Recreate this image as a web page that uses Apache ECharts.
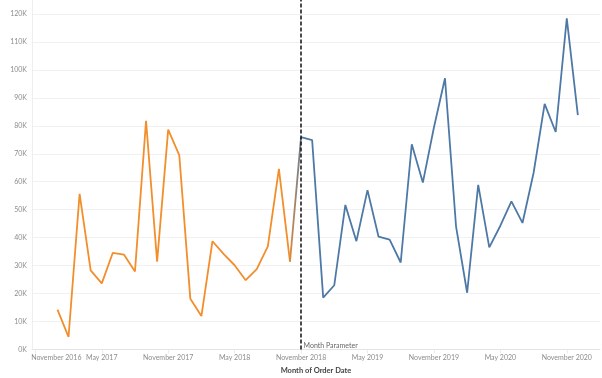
<!DOCTYPE html>
<html>
<head>
<meta charset="utf-8">
<script src="https://cdn.jsdelivr.net/npm/echarts@6/dist/echarts.min.js"></script>
<style>
  html, body { margin: 0; padding: 0; background: #fff; }
  #chart { width: 602px; height: 378px; }
</style>
</head>
<body>
<div id="chart"></div>
<script>
// monthly sales, Jan 2017 .. Dec 2020
var months = [
  '2017-01','2017-02','2017-03','2017-04','2017-05','2017-06','2017-07','2017-08','2017-09','2017-10','2017-11','2017-12',
  '2018-01','2018-02','2018-03','2018-04','2018-05','2018-06','2018-07','2018-08','2018-09','2018-10','2018-11','2018-12',
  '2019-01','2019-02','2019-03','2019-04','2019-05','2019-06','2019-07','2019-08','2019-09','2019-10','2019-11','2019-12',
  '2020-01','2020-02','2020-03','2020-04','2020-05','2020-06','2020-07','2020-08','2020-09','2020-10','2020-11','2020-12'
];
var sales = [
  14237, 4520, 55691, 28295, 23648, 34595, 33946, 27909, 81777, 31453, 78629, 69546,
  18174, 11951, 38726, 34195, 30132, 24797, 28765, 36898, 64596, 31405, 75973, 74920,
  18542, 22979, 51716, 38751, 56988, 40345, 39262, 31115, 73410, 59688, 79412, 96999,
  43971, 20301, 58872, 36522, 44261, 52982, 45264, 63121, 87867, 77777, 118448, 83829
];
var paramMonth = '2018-11';
var tickMonths = ['2016-11','2017-05','2017-11','2018-05','2018-11','2019-05','2019-11','2020-05','2020-11'];
var monthNames = ['January','February','March','April','May','June','July','August','September','October','November','December'];

var ORANGE = '#f28e2b';
var BLUE = '#4e79a7';
var FONT = 'Lato';

// month index, 0 = Jan 2017
function mIdx(m) {
  var p = m.split('-');
  return (+p[0] - 2017) * 12 + (+p[1] - 1);
}
function mLabel(i) {
  var y = 2017 + Math.floor(i / 12);
  var mo = ((i % 12) + 12) % 12;
  return monthNames[mo] + ' ' + y;
}

var pIdx = mIdx(paramMonth);
var tickIdx = tickMonths.map(mIdx);
var before = [], after = [];
months.forEach(function (m, i) {
  var pt = [mIdx(m), sales[i]];
  if (pt[0] < pIdx) before.push(pt); else after.push(pt);
});
var bridge = [before[before.length - 1], after[0]];

var chart = echarts.init(document.getElementById('chart'));
chart.setOption({
  animation: false,
  grid: { left: 32, right: 2, top: 0, bottom: 28.5, containLabel: false, outerBoundsMode: 'none' },
  xAxis: {
    type: 'value',
    min: -2.3,
    max: 49,
    name: 'Month of Order Date',
    nameLocation: 'middle',
    nameGap: 16,
    nameTextStyle: { fontFamily: FONT, fontSize: 7.5, fontWeight: 'bold', color: '#444' },
    axisLine: { onZero: false, lineStyle: { color: '#e4e4e4' } },
    axisTick: { show: true, customValues: tickIdx, length: 4, lineStyle: { color: '#ececec' } },
    splitLine: { show: false },
    axisLabel: {
      customValues: tickIdx,
      hideOverlap: false,
      margin: 5,
      fontFamily: FONT,
      fontSize: 7,
      color: '#8c8c8c',
      formatter: function (v) {
        if (v === tickIdx[0]) return '{first|' + mLabel(v) + '}';
        return mLabel(v);
      },
      rich: {
        first: { padding: [0, 0, 0, 42], fontFamily: FONT, fontSize: 7, color: '#8c8c8c' }
      }
    }
  },
  yAxis: {
    type: 'value',
    min: 0,
    max: 125000,
    interval: 10000,
    name: 'Sales',
    nameLocation: 'middle',
    nameRotate: 90,
    nameGap: 23,
    nameTextStyle: { fontFamily: FONT, fontSize: 7.5, fontWeight: 'bold', color: '#444' },
    axisLine: { show: true, onZero: false, lineStyle: { color: '#eeeeee' } },
    axisTick: { show: false },
    splitLine: { showMaxLine: false, lineStyle: { color: '#f1f1f1' } },
    axisLabel: {
      showMaxLabel: false,
      margin: 5,
      fontFamily: FONT,
      fontSize: 7,
      color: '#8c8c8c',
      formatter: function (v) { return (v / 1000) + 'K'; }
    }
  },
  series: [
    {
      name: 'Before',
      type: 'line',
      data: before,
      symbol: 'none',
      lineStyle: { color: ORANGE, width: 1.8 },
      z: 2
    },
    {
      name: 'Bridge',
      type: 'line',
      data: bridge,
      symbol: 'none',
      lineStyle: {
        width: 1.8,
        color: new echarts.graphic.LinearGradient(0, 0, 1, 0, [
          { offset: 0, color: ORANGE },
          { offset: 1, color: BLUE }
        ])
      },
      z: 2
    },
    {
      name: 'After',
      type: 'line',
      data: after,
      symbol: 'none',
      lineStyle: { color: BLUE, width: 1.8 },
      z: 3,
      markLine: {
        silent: true,
        symbol: 'none',
        label: { show: false },
        lineStyle: { color: '#111', type: [4, 2], width: 1.5 },
        data: [{ xAxis: pIdx }]
      },
      markPoint: {
        silent: true,
        symbol: 'rect',
        symbolSize: 1,
        itemStyle: { color: 'rgba(0,0,0,0)' },
        label: {
          show: true,
          position: 'right',
          distance: 2,
          offset: [0, -4],
          formatter: 'Month Parameter',
          fontFamily: FONT,
          fontSize: 7,
          color: '#666'
        },
        data: [{ coord: [pIdx, 0] }]
      }
    }
  ]
});
</script>
</body>
</html>
